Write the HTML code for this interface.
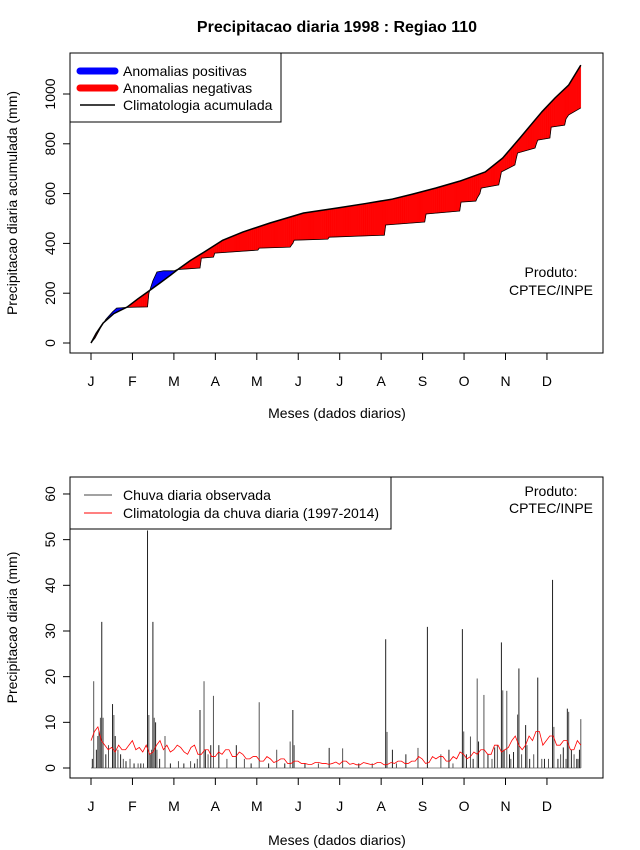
<!DOCTYPE html>
<html><head><meta charset="utf-8"><style>
body{margin:0;background:#fff}
svg{display:block;font-family:"Liberation Sans",sans-serif}
</style></head><body>
<svg id="c" width="640" height="850" xmlns="http://www.w3.org/2000/svg">
<text x="337" y="32" text-anchor="middle" font-size="16" font-weight="bold">Precipitacao diaria 1998 : Regiao 110</text>
<g id="top"></g>
<g id="bot"></g>
</svg>
<script>
// ---- data ----
const monthLabels = ["J","F","M","A","M","J","J","A","S","O","N","D"];
const topTicks = [0,200,400,600,800,1000];
const botTicks = [0,10,20,30,40,50,60];
// climatology cumulative (day, mm)
const climCumDays = [1,5,10,18,28,36,43,52,60,65,75,85,99,114,134,159,184,205,225,240,257,275,294,307,320,336,346,356,365];
const climCumVals = [0,40,80,118,145,178,205,240,272,293,332,365,413,446,482,522,542,560,578,598,622,650,687,743,825,928,985,1036,1116];
// observed cumulative (day, mm)
const obsCumDays = [1,4,8,12,17,20,28,43,44,47,50,55,63,65,82,83,92,93,125,126,149,150,151,152,177,178,219,220,249,250,275,276,287,288,290,291,304,305,306,316,317,318,331,332,333,342,343,353,354,356,365];
const obsCumVals = [0,20,60,95,125,140,143,145,200,250,285,290,290,295,301,341,345,361,373,381,385,393,400,413,417,425,433,474,486,518,530,566,570,582,600,622,635,660,687,715,740,763,783,800,815,823,867,875,900,916,944];
// observed daily rain bars
const obsDays = [2,3,5,6,7,8,9,10,12,14,17,18,19,21,23,25,27,30,33,36,38,40,43,44,45,46,47,48,49,50,52,56,60,66,70,75,78,80,82,85,86,88,90,92,96,102,109,115,120,126,133,139,145,149,151,152,160,170,178,188,200,210,220,221,225,228,235,244,251,261,267,270,277,278,280,283,285,288,289,293,296,299,301,303,306,307,308,310,312,313,315,318,319,321,324,325,327,330,333,336,338,341,344,345,348,350,352,354,355,356,358,360,362,363,364,365];
const obsVals = [2,19,4,7,8,11,32,11,3,5,14,11.6,7,4,3,2,1.5,2,1,1,1,1,52,11.6,3,4,32,11,10,4,2,7,1,1.5,1,1.5,1,2,12.7,19,4,3,5,15.8,5,2,5,2,1,14.4,1,4,1,5.8,12.7,5,1,1,4.4,4.3,1,1,28.2,7.9,4,1,3,4.4,30.9,3,4,1,30.4,8,3,6.9,2,19.6,5.8,16,3,2,4.5,5,27.5,17,4,16.9,3,2,3.5,11.7,21.8,3,9.4,5,2,3,19.8,2,2,2,41.2,9,2,3,4.5,2,13,12.3,4,3,2,2,4,10.7];
// climatology daily rain (every 2.5 days)
const climDaily = [6,8,9,6,5,4,4.5,3.5,5,4,4,5,6,4,4.5,3.5,5,3,3.5,5,6,4,5,3.5,4,5,4.5,3.5,3,4.5,5,3,3,4,4,2.5,2.5,3.5,3,4,4,2.5,2.5,3.5,3,2,2,2.5,2.5,1.5,1.5,2.5,2,1.2,1.5,2,2,1,1,1.5,1.5,1,1,0.8,0.8,1.2,1.2,1,1,0.8,1,1.3,0.8,1.5,1.5,0.8,1,0.7,0.7,1.2,1,0.8,0.8,1.2,1.2,0.7,0.8,1.2,1,1.5,1.5,1,1,1.5,1.5,2.5,2,1,1.2,2.5,2,2.5,2.5,1.5,1.5,2.5,2,3.5,3,2,2.5,3.5,3,4,4,3,3,5,5,3.5,4,4.5,6,7,5,4,5,7,6,8,8,5,6,7,7,5,5,6,6,4,4,6,5];

const NS="http://www.w3.org/2000/svg";
function mk(p,tag,at,name,txt){const e=document.createElementNS(NS,tag);for(const k in at)e.setAttribute(k,at[k]);


if(txt!==undefined)e.textContent=txt;p.appendChild(e);return e;}
const xd = d => 91 + (d-1)*1.3456;
const monthX = i => 91 + i*41.45;

function panel(g, y0px, scale, ticks, box, labY, ylabel){
  const yv = v => y0px - v*scale;
  mk(g,'rect',{x:box[0],y:box[1],width:box[2]-box[0],height:box[3]-box[1],fill:'none',stroke:'#000','stroke-width':1},'plot-frame');
  ticks.forEach(t=>{
    mk(g,'line',{x1:63,x2:70,y1:yv(t),y2:yv(t),stroke:'#000'},'y-tick');
    mk(g,'text',{x:0,y:0,transform:`translate(55,${yv(t)}) rotate(-90)`,'text-anchor':'middle','font-size':14,dy:0},'y-tick-label',t);
  });
  monthLabels.forEach((m,i)=>{
    const x=monthX(i);
    mk(g,'line',{x1:x,x2:x,y1:box[3],y2:box[3]+7,stroke:'#000'},'x-tick');
    mk(g,'text',{x:x,y:box[3]+33,'text-anchor':'middle','font-size':14},'x-tick-label',m);
  });
  mk(g,'line',{x1:70,x2:70,y1:yv(ticks[0]),y2:yv(ticks[ticks.length-1]),stroke:'#000'},'y-axis-line');
  mk(g,'text',{x:0,y:0,transform:`translate(17,${(box[1]+box[3])/2}) rotate(-90)`,'text-anchor':'middle','font-size':14},'y-axis-title',ylabel);
  mk(g,'text',{x:337,y:labY,'text-anchor':'middle','font-size':14},'x-axis-title','Meses (dados diarios)');
  return yv;
}
// ---- top panel ----
const T=document.getElementById('top');
const yT = panel(T,343,0.249,topTicks,[70,53,603,353],418,'Precipitacao diaria acumulada (mm)');
function interp(ds,vs,d){for(let i=1;i<ds.length;i++){if(d<=ds[i]){const f=(d-ds[i-1])/(ds[i]-ds[i-1]);return vs[i-1]+f*(vs[i]-vs[i-1]);}}return vs[vs.length-1];}
for(let d=1; d<365; d+=0.5){
  const c1=interp(climCumDays,climCumVals,d),c2=interp(climCumDays,climCumVals,d+0.5);
  const o1=interp(obsCumDays,obsCumVals,d),o2=interp(obsCumDays,obsCumVals,d+0.5);
  const col=(o1+o2>=c1+c2)?'#0000ff':'#ff0000';
  mk(T,'polygon',{points:`${xd(d)},${yT(c1)} ${xd(d+0.5)},${yT(c2)} ${xd(d+0.5)},${yT(o2)} ${xd(d)},${yT(o1)}`,fill:col,stroke:col,'stroke-width':0.4},'anomaly-fill');
}
mk(T,'polyline',{points:obsCumDays.map((d,i)=>xd(d)+','+yT(obsCumVals[i])).join(' '),fill:'none',stroke:'#000','stroke-width':0.8},'observed-cumulative-line');
mk(T,'polyline',{points:climCumDays.map((d,i)=>xd(d)+','+yT(climCumVals[i])).join(' '),fill:'none',stroke:'#000','stroke-width':1.5,'stroke-linejoin':'round'},'climatology-cumulative-line');
const L1=mk(T,'g',{},'top-legend');
mk(L1,'rect',{x:70,y:53,width:211,height:69,fill:'#fff',stroke:'#000'},'legend-box');
mk(L1,'line',{x1:80,x2:115,y1:71,y2:71,stroke:'#0000ff','stroke-width':7,'stroke-linecap':'round'},'legend-swatch-positive');
mk(L1,'text',{x:123,y:76,'font-size':14},'legend-entry-positive','Anomalias positivas');
mk(L1,'line',{x1:80,x2:115,y1:88,y2:88,stroke:'#ff0000','stroke-width':7,'stroke-linecap':'round'},'legend-swatch-negative');
mk(L1,'text',{x:123,y:93,'font-size':14},'legend-entry-negative','Anomalias negativas');
mk(L1,'line',{x1:80,x2:115,y1:105,y2:105,stroke:'#000','stroke-width':1.5},'legend-swatch-climatology');
mk(L1,'text',{x:123,y:110,'font-size':14},'legend-entry-climatology','Climatologia acumulada');
mk(T,'text',{x:551,y:277,'text-anchor':'middle','font-size':14},'product-label','Produto:');
mk(T,'text',{x:551,y:295,'text-anchor':'middle','font-size':14},'product-source','CPTEC/INPE');
// ---- bottom panel ----
const B=document.getElementById('bot');
const yB = panel(B,768,4.567,botTicks,[70,477,603,778],845,'Precipitacao diaria (mm)');
mk(B,'line',{x1:xd(1),x2:xd(365),y1:yB(0),y2:yB(0),stroke:'#888','stroke-width':1},'zero-baseline');
obsDays.forEach((d,i)=>{
  mk(B,'line',{x1:xd(d),x2:xd(d),y1:yB(0),y2:yB(Math.min(obsVals[i],52.5)),stroke:i%2?'#555':'#222','stroke-width':1},'observed-rain-bar');
});
const step=364/(climDaily.length-1);
mk(B,'polyline',{points:climDaily.map((v,i)=>xd(1+i*step)+','+yB(v)).join(' '),fill:'none',stroke:'#ff0000','stroke-width':0.8},'climatology-daily-line');
const L2=mk(B,'g',{},'bottom-legend');
mk(L2,'rect',{x:70,y:477,width:321,height:52,fill:'#fff',stroke:'#000'},'legend-box');
mk(L2,'line',{x1:84,x2:112,y1:495,y2:495,stroke:'#444'},'legend-swatch-observed');
mk(L2,'text',{x:123,y:500,'font-size':14},'legend-entry-observed','Chuva diaria observada');
mk(L2,'line',{x1:84,x2:112,y1:513,y2:513,stroke:'#ff0000'},'legend-swatch-climatology');
mk(L2,'text',{x:123,y:518,'font-size':14},'legend-entry-climatology','Climatologia da chuva diaria (1997-2014)');
mk(B,'text',{x:551,y:496,'text-anchor':'middle','font-size':14},'product-label','Produto:');
mk(B,'text',{x:551,y:513,'text-anchor':'middle','font-size':14},'product-source','CPTEC/INPE');
</script>
</body></html>
